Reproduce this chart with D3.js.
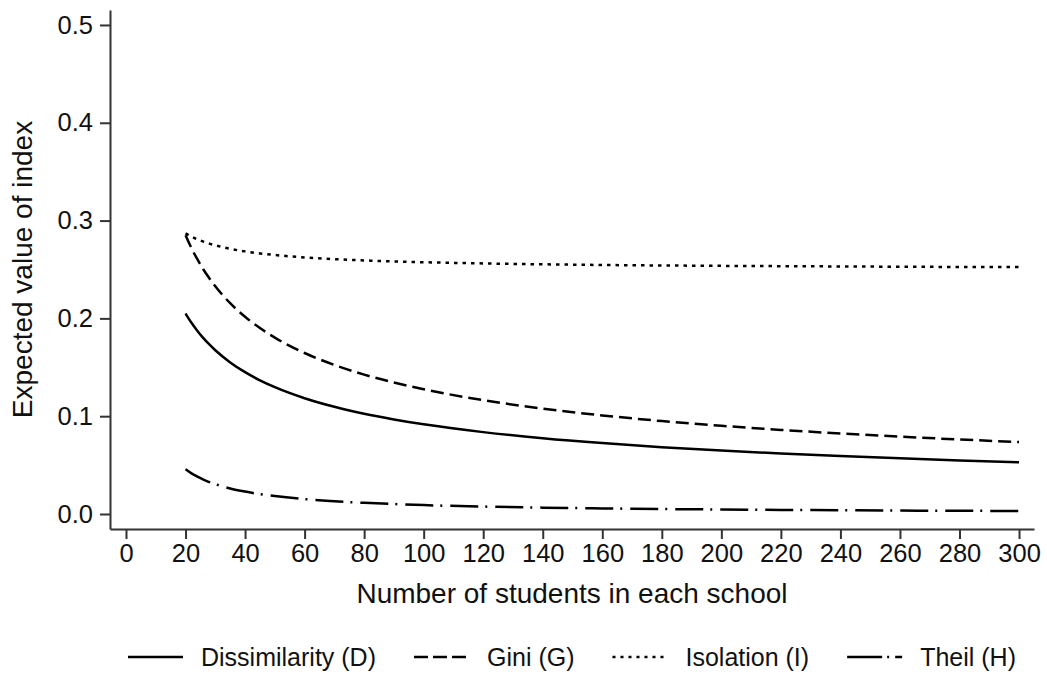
<!DOCTYPE html>
<html>
<head>
<meta charset="utf-8">
<script src="https://cdn.jsdelivr.net/npm/d3@7/dist/d3.min.js"></script>
<style>
  body { margin: 0; background: #fff; }
  svg { display: block; }
  text { font-family: "Liberation Sans", Arial, Helvetica, sans-serif; fill: #111; }
</style>
</head>
<body>
<svg id="chart" width="1047" height="677"></svg>
<script>
// school sizes (x) and expected index values
var schoolSize = [20, 22, 24, 26, 28, 30, 35, 40, 45, 50, 60, 70, 80, 90, 100,
                  120, 140, 160, 180, 200, 220, 240, 260, 280, 300];

var dissimilarity = [0.205, 0.1955, 0.1872, 0.1798, 0.1733, 0.1674, 0.155, 0.145, 0.1367, 0.1297,
                     0.1184, 0.1096, 0.1025, 0.0967, 0.0917, 0.0837, 0.0775, 0.0725, 0.0683,
                     0.0648, 0.0618, 0.0592, 0.0569, 0.0548, 0.0529];

var gini = [0.2851, 0.2718, 0.2603, 0.25, 0.241, 0.2328, 0.2155, 0.2016, 0.1901, 0.1803,
            0.1646, 0.1524, 0.1425, 0.1344, 0.1275, 0.1164, 0.1078, 0.1008, 0.095,
            0.0902, 0.086, 0.0823, 0.0791, 0.0762, 0.0736];

var isolation = [0.287, 0.2836, 0.2808, 0.2785, 0.2764, 0.2747, 0.2711, 0.2685, 0.2664, 0.2648,
                 0.2623, 0.2606, 0.2593, 0.2582, 0.2574, 0.2562, 0.2553, 0.2546, 0.2541,
                 0.2537, 0.2534, 0.2531, 0.2528, 0.2526, 0.2525];

var theil = [0.0457, 0.0415, 0.0381, 0.0352, 0.0326, 0.0305, 0.0261, 0.0229, 0.0203, 0.0183,
             0.0152, 0.0131, 0.0114, 0.0102, 0.0091, 0.0076, 0.0065, 0.0057, 0.0051,
             0.0046, 0.0042, 0.0038, 0.0035, 0.0033, 0.003];

var xTicks = [0, 20, 40, 60, 80, 100, 120, 140, 160, 180, 200, 220, 240, 260, 280, 300];
var yTicks = [0, 0.1, 0.2, 0.3, 0.4, 0.5];

var seriesNames = ["Dissimilarity (D)", "Gini (G)", "Isolation (I)", "Theil (H)"];
var seriesValues = [dissimilarity, gini, isolation, theil];
var seriesDash = [null, "13,6", "3.5,5", "28,7,2,8"];
var legendDash = [null, "14,5", "3,5", "35,5,2,6"];

var svg = d3.select("#chart");

// plot box (note: "top" is a reserved window property, so use other names)
var plotLeft = 110, plotRight = 1034, plotTop = 10, plotBottom = 529;

var x = d3.scaleLinear().domain([-5.375, 305.03]).range([plotLeft, plotRight]);
var y = d3.scaleLinear().domain([-0.01534, 0.5153]).range([plotBottom, plotTop]);

// axes
var xAxis = svg.append("g")
    .attr("transform", "translate(0," + plotBottom + ")")
    .call(d3.axisBottom(x).tickValues(xTicks).tickSize(10).tickSizeOuter(0).tickPadding(5));

var yAxis = svg.append("g")
    .attr("transform", "translate(" + plotLeft + ",0)")
    .call(d3.axisLeft(y).tickValues(yTicks).tickSize(10).tickSizeOuter(0).tickPadding(7)
        .tickFormat(d3.format(".1f")));

[xAxis, yAxis].forEach(function(axis) {
    axis.select(".domain").attr("stroke", "#333").attr("stroke-width", 2);
    axis.selectAll(".tick line").attr("stroke", "#333").attr("stroke-width", 2);
    axis.selectAll(".tick text").style("font-size", "25.5px").attr("fill", "#111");
});

// axis titles
svg.append("text")
    .attr("x", (plotLeft + plotRight) / 2)
    .attr("y", 603)
    .attr("text-anchor", "middle")
    .style("font-size", "28px")
    .text("Number of students in each school");

svg.append("text")
    .attr("transform", "translate(32," + ((plotTop + plotBottom) / 2) + ") rotate(-90)")
    .attr("text-anchor", "middle")
    .style("font-size", "28px")
    .text("Expected value of index");

// lines
var line = d3.line()
    .x(function(d) { return x(d[0]); })
    .y(function(d) { return y(d[1]); })
    .curve(d3.curveMonotoneX);

seriesValues.forEach(function(values, i) {
    var points = schoolSize.map(function(n, j) { return [n, values[j]]; });
    svg.append("path")
        .datum(points)
        .attr("d", line)
        .attr("fill", "none")
        .attr("stroke", "#000")
        .attr("stroke-width", 2.5)
        .attr("stroke-dasharray", seriesDash[i]);
});

// legend, laid out in a row and centred under the plot
var legend = svg.append("g");
var keyWidth = 55, keyGap = 18, itemGap = 38, cursor = 0;

seriesNames.forEach(function(name, i) {
    var item = legend.append("g").attr("transform", "translate(" + cursor + ",0)");
    item.append("line")
        .attr("x1", 0).attr("x2", keyWidth)
        .attr("y1", 0).attr("y2", 0)
        .attr("stroke", "#000")
        .attr("stroke-width", 2.5)
        .attr("stroke-dasharray", legendDash[i]);
    var label = item.append("text")
        .attr("x", keyWidth + keyGap)
        .attr("y", 9)
        .style("font-size", "25px")
        .text(name);
    cursor += keyWidth + keyGap + label.node().getComputedTextLength() + itemGap;
});

var legendWidth = cursor - itemGap;
legend.attr("transform", "translate(" + ((plotLeft + plotRight) / 2 - legendWidth / 2) + ",657)");
</script>
</body>
</html>
